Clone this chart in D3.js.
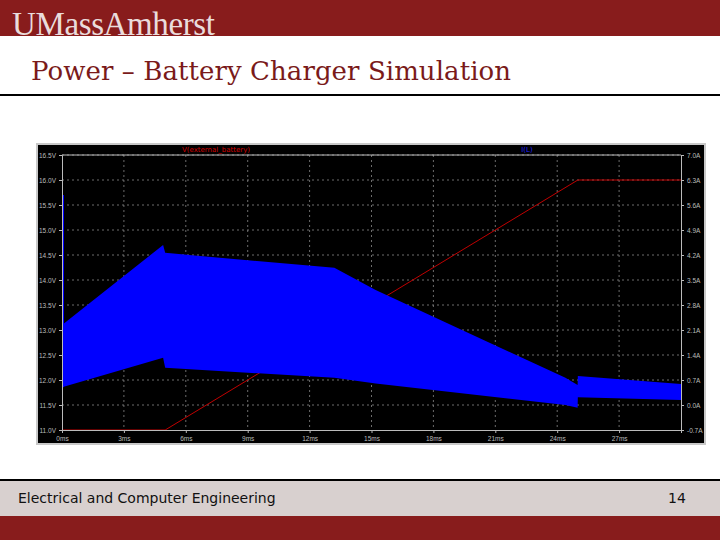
<!DOCTYPE html>
<html><head><meta charset="utf-8">
<script src="https://cdn.jsdelivr.net/npm/d3@7"></script>
<style>body{margin:0;background:#fff}svg{display:block}</style>
</head><body>
<script>
// time axis (ms)
const timeTicks = [0, 3, 6, 9, 12, 15, 18, 21, 24, 27];
const voltTicks = [11.0, 11.5, 12.0, 12.5, 13.0, 13.5, 14.0, 14.5, 15.0, 15.5, 16.0, 16.5];
const ampTicks = [-0.7, 0.0, 0.7, 1.4, 2.1, 2.8, 3.5, 4.2, 4.9, 5.6, 6.3, 7.0];

// V(external_battery)
const vTime = [0, 5.0, 25.0, 30];
const vBatt = [11.0, 11.0, 16.0, 16.0];

// I(L) envelope (ripple band)
const iTime  = [0, 4.9, 5.0, 13.2, 15.2, 24.4, 24.99, 25.0, 30];
const iUpper = [2.24, 4.48, 4.26, 3.84, 3.22, 0.76, 0.56, 0.81, 0.59];
const iLower = [0.50, 1.32, 1.04, 0.76, 0.60, 0.00, -0.08, 0.22, 0.14];

const W = 720, H = 540;
const svg = d3.select("body").append("svg").attr("width", W).attr("height", H)
  .style("font-family", "'DejaVu Sans', sans-serif");

// slide chrome
svg.append("rect").attr("width", W).attr("height", 36).attr("fill", "#881c1c");
svg.append("text").attr("x", 12).attr("y", 35).text("UMassAmherst")
  .attr("fill", "#eadcdc").attr("font-family", "'Liberation Serif', serif").attr("font-size", 33)
  .attr("textLength", 203);
svg.append("text").attr("x", 31).attr("y", 80).text("Power – Battery Charger Simulation")
  .attr("fill", "#7a1a1a").attr("font-family", "'DejaVu Serif', serif").attr("font-size", 26)
  .attr("textLength", 480);
svg.append("rect").attr("x", 0).attr("y", 94).attr("width", W).attr("height", 2).attr("fill", "#000");
svg.append("rect").attr("x", 0).attr("y", 479).attr("width", W).attr("height", 2).attr("fill", "#000");
svg.append("rect").attr("x", 0).attr("y", 481).attr("width", W).attr("height", 35).attr("fill", "#d8d0cf");
svg.append("rect").attr("x", 0).attr("y", 516).attr("width", W).attr("height", 24).attr("fill", "#881c1c");
svg.append("text").attr("x", 18).attr("y", 503).text("Electrical and Computer Engineering")
  .attr("font-size", 14).attr("fill", "#111");
svg.append("text").attr("x", 668).attr("y", 503).text("14")
  .attr("font-size", 14).attr("fill", "#111");

// plot window
svg.append("rect").attr("x", 37).attr("y", 144).attr("width", 668).attr("height", 300)
  .attr("fill", "#000").attr("stroke", "#c8c8c8").attr("stroke-width", 2);

const x = d3.scaleLinear().domain([0, 30]).range([62, 681]);
const yV = d3.scaleLinear().domain([11.0, 16.5]).range([430, 155]);
const yA = d3.scaleLinear().domain([-0.7, 7.0]).range([430, 155]);

// grid
const g = svg.append("g");
g.selectAll(".gx").data(timeTicks.slice(1)).join("line")
  .attr("x1", d => x(d)).attr("x2", d => x(d)).attr("y1", 155).attr("y2", 430)
  .attr("stroke", "#888").attr("stroke-dasharray", "2,3").attr("stroke-width", 0.8);
g.selectAll(".gy").data(voltTicks.slice(1)).join("line")
  .attr("x1", 62).attr("x2", 681).attr("y1", d => yV(d)).attr("y2", d => yV(d))
  .attr("stroke", "#888").attr("stroke-dasharray", "2,3").attr("stroke-width", 0.8);

// V(external_battery)
svg.append("path").datum(vTime.map((t, i) => [t, vBatt[i]]))
  .attr("d", d3.line().x(d => x(d[0])).y(d => yV(d[1])))
  .attr("fill", "none").attr("stroke", "#c00000").attr("stroke-width", 1);

// I(L) band, drawn over the voltage trace
const band = iTime.map((t, i) => ({ t, hi: iUpper[i], lo: iLower[i] }));
svg.append("path").datum(band)
  .attr("d", d3.area().x(d => x(d.t)).y0(d => yA(d.lo)).y1(d => yA(d.hi)))
  .attr("fill", "#0000ff");
// start-up spike
svg.append("line").attr("x1", x(0.05)).attr("x2", x(0.05))
  .attr("y1", yV(15.7)).attr("y2", yA(0.5)).attr("stroke", "#0000ff").attr("stroke-width", 2);

// axes
const axStyle = s => {
  s.selectAll("path,line").attr("stroke", "#bbb");
  s.selectAll("text").attr("fill", "#bbb").attr("font-size", 6.5);
};
svg.append("g").attr("transform", "translate(0,430)")
  .call(d3.axisBottom(x).tickValues(timeTicks).tickFormat(d => d + "ms").tickSize(3))
  .call(axStyle);
svg.append("g").attr("transform", "translate(62,0)")
  .call(d3.axisLeft(yV).tickValues(voltTicks).tickFormat(d => d.toFixed(1) + "V").tickSize(3))
  .call(axStyle);
svg.append("g").attr("transform", "translate(681,0)")
  .call(d3.axisRight(yA).tickValues(ampTicks).tickFormat(d => d.toFixed(1) + "A").tickSize(3))
  .call(axStyle);
svg.append("line").attr("x1", 62).attr("x2", 681).attr("y1", 155).attr("y2", 155).attr("stroke", "#bbb");

// trace labels
svg.append("text").attr("x", 216).attr("y", 152).attr("text-anchor", "middle")
  .text("V(external_battery)").attr("fill", "#d00000").attr("font-size", 7);
svg.append("text").attr("x", 527).attr("y", 152).attr("text-anchor", "middle")
  .text("I(L)").attr("fill", "#2020ff").attr("font-size", 7);
</script>
</body></html>
